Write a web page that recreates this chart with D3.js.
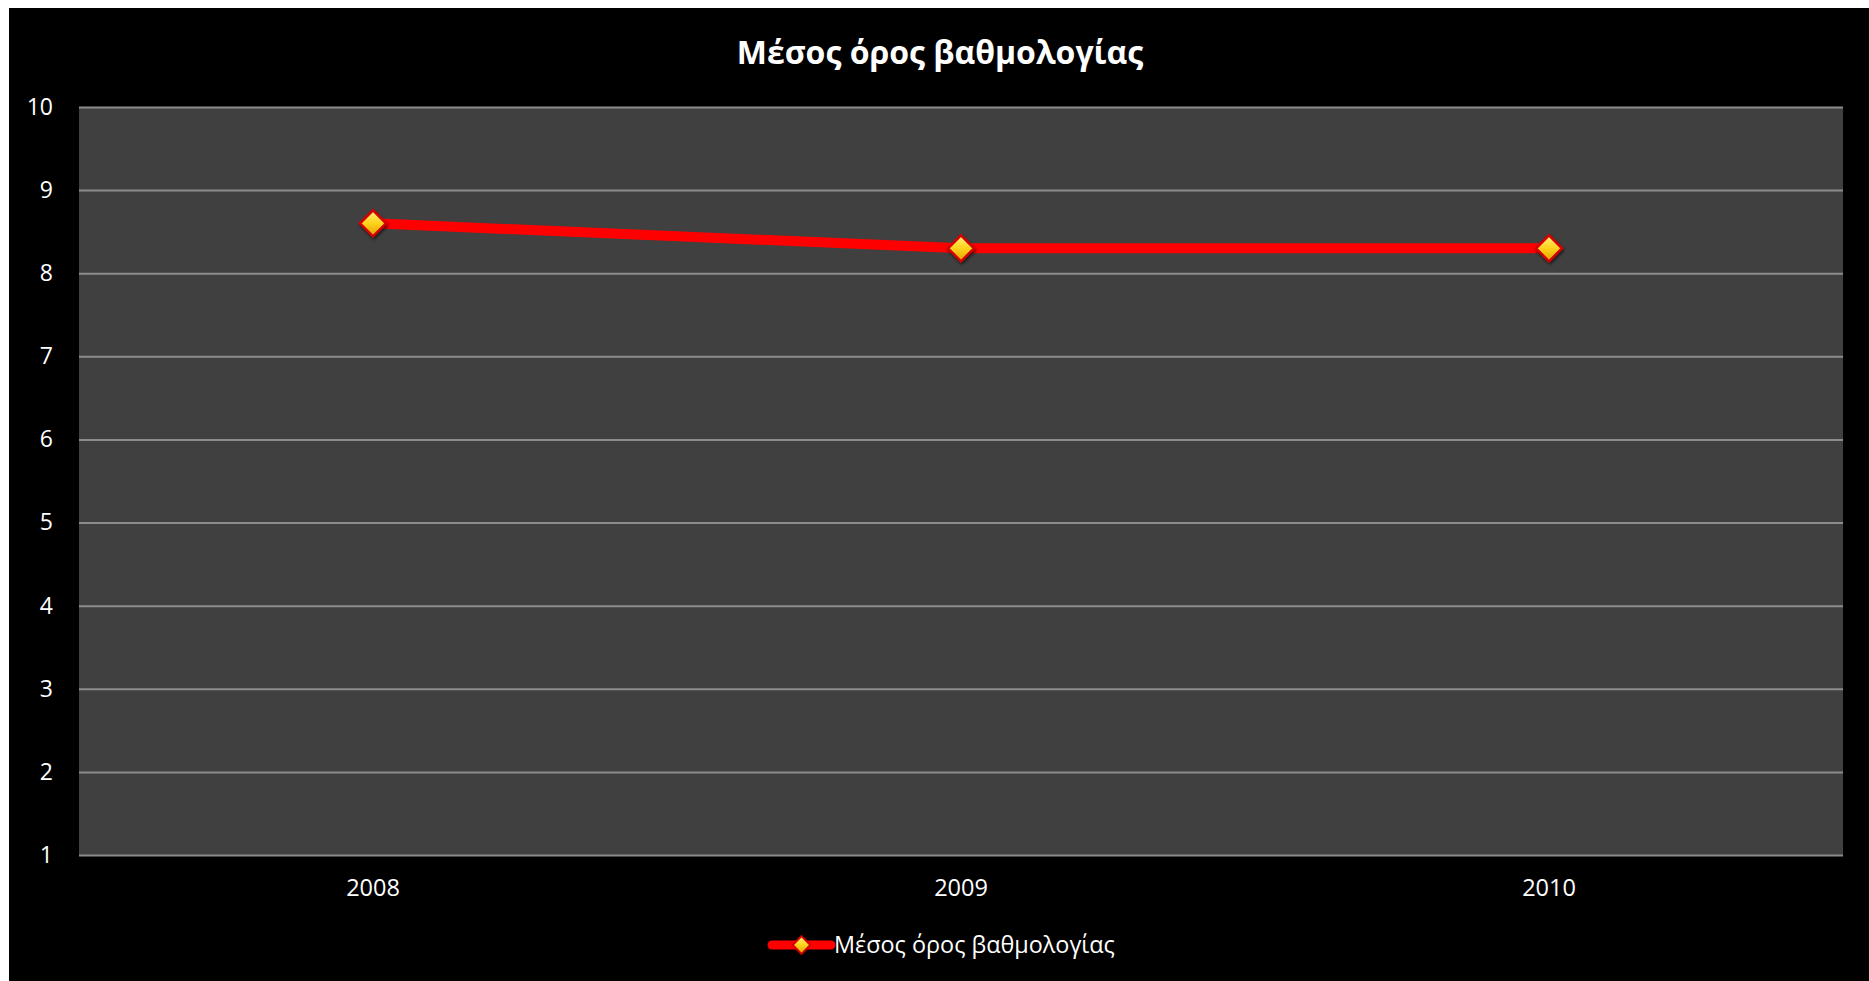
<!DOCTYPE html>
<html>
<head>
<meta charset="utf-8">
<script src="https://cdn.jsdelivr.net/npm/d3@7"></script>
<style>
  html, body { margin: 0; padding: 0; background: #ffffff; }
  svg { display: block; }
  text { font-family: "Open Sans", "Noto Sans", sans-serif; fill: #ffffff; }
</style>
</head>
<body>
<script>
const title = "Μέσος όρος βαθμολογίας";
const seriesName = "Μέσος όρος βαθμολογίας";
const categories = ["2008", "2009", "2010"];
const values = [8.6, 8.3, 8.3];
const yTicks = [1, 2, 3, 4, 5, 6, 7, 8, 9, 10];

const W = 1869, H = 981;
const svg = d3.select("body").append("svg").attr("width", W).attr("height", H);

const defs = svg.append("defs");
const grad = defs.append("linearGradient").attr("id", "mk").attr("x1", "0").attr("y1", "0").attr("x2", "0").attr("y2", "1");
grad.append("stop").attr("offset", "0%").attr("stop-color", "#fff27a");
grad.append("stop").attr("offset", "50%").attr("stop-color", "#ffd21a");
grad.append("stop").attr("offset", "100%").attr("stop-color", "#e0a000");
const sh = defs.append("filter").attr("id", "shadow").attr("x", "-50%").attr("y", "-50%").attr("width", "200%").attr("height", "200%");
sh.append("feDropShadow").attr("dx", 1).attr("dy", 2).attr("stdDeviation", 1.5).attr("flood-color", "#000").attr("flood-opacity", 0.6);

svg.append("rect").attr("x", 9).attr("y", 8).attr("width", W - 9).attr("height", H - 8).attr("fill", "#000000");

const plot = { left: 79, top: 107, right: 1843, bottom: 855 };

const x = d3.scaleBand().domain(categories).range([plot.left, plot.right]);
const y = d3.scaleLinear().domain([1, 10]).range([plot.bottom, plot.top]);

svg.append("rect").attr("x", plot.left).attr("y", plot.top)
  .attr("width", plot.right - plot.left).attr("height", plot.bottom - plot.top)
  .attr("fill", "#404040");

const yAxisGrid = d3.axisLeft(y).tickValues(yTicks).tickSize(-(plot.right - plot.left)).tickFormat("");
const gg = svg.append("g").attr("transform", `translate(${plot.left},0)`).call(yAxisGrid);
gg.select(".domain").remove();
gg.selectAll("line").attr("stroke", "#8c8c8c").attr("stroke-width", 2);

const yAxis = d3.axisLeft(y).tickValues(yTicks).tickSize(0).tickPadding(26);
const ya = svg.append("g").attr("transform", `translate(${plot.left},0)`).call(yAxis);
ya.select(".domain").remove();
ya.selectAll("text").attr("font-size", 23).attr("fill", "#fff")
  .attr("font-family", "'Open Sans', sans-serif");

const xAxis = d3.axisBottom(x).tickSize(0).tickPadding(24);
const xa = svg.append("g").attr("transform", `translate(0,${plot.bottom})`).call(xAxis);
xa.select(".domain").remove();
xa.selectAll("text").attr("font-size", 23.5).attr("fill", "#fff")
  .attr("font-family", "'Open Sans', sans-serif");

const cx = d => x(d) + x.bandwidth() / 2;
const line = d3.line().x((d, i) => cx(categories[i])).y(d => y(d));
svg.append("path").datum(values).attr("d", line)
  .attr("fill", "none").attr("stroke", "#ff0000").attr("stroke-width", 10)
  .attr("stroke-linejoin", "round").attr("stroke-linecap", "round");

const diamond = d3.symbol().type(d3.symbolDiamond2).size(430);
function marker(g) {
  g.append("path").attr("d", diamond).attr("fill", "url(#mk)")
    .attr("stroke", "#d40000").attr("stroke-width", 2.5).attr("filter", "url(#shadow)");
}
svg.selectAll("g.mk").data(values).join("g").attr("class", "mk")
  .attr("transform", (d, i) => `translate(${cx(categories[i])},${y(d)})`)
  .each(function () { marker(d3.select(this)); });

svg.append("text").attr("x", 940).attr("y", 64).attr("text-anchor", "middle")
  .attr("font-size", 32).attr("font-weight", "bold").text(title);

const lg = svg.append("g").attr("transform", "translate(772,945)");
lg.append("line").attr("x1", 0).attr("x2", 59).attr("y1", 0).attr("y2", 0)
  .attr("stroke", "#ff0000").attr("stroke-width", 9).attr("stroke-linecap", "round");
const lm = lg.append("g").attr("transform", "translate(29.5,0)");
lm.append("path").attr("d", d3.symbol().type(d3.symbolDiamond2).size(200)).attr("fill", "url(#mk)")
  .attr("stroke", "#d40000").attr("stroke-width", 2);
lg.append("text").attr("x", 62).attr("y", 8).attr("font-size", 23.4).text(seriesName);
</script>
</body>
</html>
